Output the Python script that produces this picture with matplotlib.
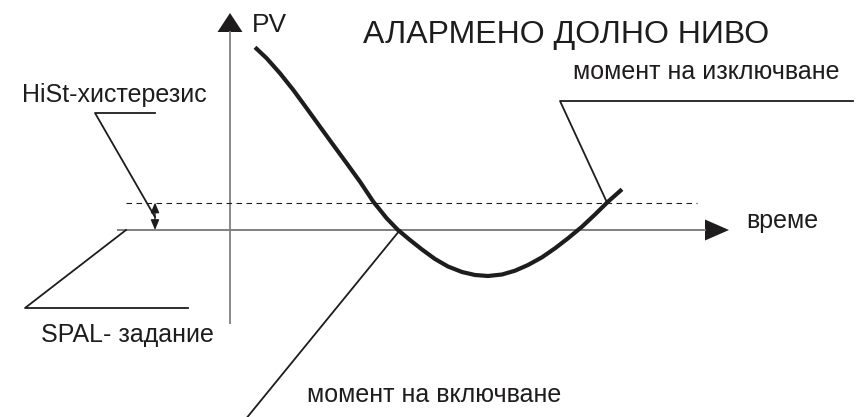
import matplotlib
matplotlib.use("Agg")
import matplotlib.pyplot as plt
from matplotlib.patches import Polygon

plt.rcParams['font.family'] = ['Liberation Sans', 'DejaVu Sans']

# ---- data (time / PV, origin where the axes cross) ----
time = [25, 36.7, 50, 63.3, 76.7, 90, 103.3, 116.7, 130, 143.3, 156.7,
        168, 180, 192, 205, 218, 232, 245, 258, 272, 285, 298, 312, 325,
        338, 352, 365, 378, 392]
pv = [182.7, 171.7, 156.7, 140, 121.7, 103.3, 85, 66.7, 48.3, 28.3, 11.7,
      0, -10, -19.5, -29, -36.5, -42, -45, -46, -44.5, -40.7, -35, -27.3,
      -18.3, -8.3, 3.3, 15.5, 28.3, 40.7]

SPAL = 0          # alarm set point
HIST = 27.5       # hysteresis band above set point
t_on = 170        # moment of switching on (curve crosses SPAL)
t_off = 377       # moment of switching off (curve crosses SPAL+HiSt)

title = "АЛАРМЕНО ДОЛНО НИВО"
ylabel = "PV"
xlabel = "време"
lbl_hist = "HiSt-хистерезис"
lbl_spal = "SPAL- задание"
lbl_on = "момент на включване"
lbl_off = "момент на изключване"

# ---- figure ----
fig = plt.figure(figsize=(8.63, 4.17), dpi=100)
ax = fig.add_axes([0, 0, 1, 1])
ax.set_xlim(-230, 633)
ax.set_ylim(-187, 230)
ax.axis('off')

axis_col = '#808080'
ink = '#1e1c1c'

# axes
ax.plot([0, 0], [-94, 199], color=axis_col, lw=1.3, solid_capstyle='butt')
ax.add_patch(Polygon([[0, 217], [-12.5, 198], [12.5, 198]], closed=True,
                     color=ink, lw=0))
ax.plot([-113, 476], [SPAL, SPAL], color=axis_col, lw=1.4, solid_capstyle='butt')
ax.add_patch(Polygon([[499, SPAL], [475, SPAL + 10.5], [475, SPAL - 10.5]],
                     closed=True, color=ink, lw=0))

# hysteresis level
ax.plot([-104, 467], [SPAL + HIST, SPAL + HIST], color=ink, lw=0.8,
        linestyle=(0, (5, 4)))

# hysteresis double arrow
ax.annotate('', xy=(-75, SPAL), xytext=(-75, SPAL + HIST),
            arrowprops=dict(arrowstyle='<|-|>,head_length=0.6,head_width=0.25',
                            color=ink, lw=1.0, shrinkA=0, shrinkB=0,
                            mutation_scale=10))

# PV curve
ax.plot(time, pv, color=ink, lw=3.0, solid_capstyle='butt',
        solid_joinstyle='round')

# leader lines
lw_l = 1.3
ax.plot([-75, -135, -75], [117, 117, SPAL + 13], color=ink, lw=lw_l)
ax.plot([-104, -205, -42], [SPAL, -78, -78], color=ink, lw=lw_l)
ax.plot([t_on, 15], [SPAL, -190], color=ink, lw=lw_l)
ax.plot([623, 330, t_off], [129, 129, SPAL + HIST], color=ink, lw=lw_l)

# texts
ax.text(336, 187, title, fontsize=23, color=ink, ha='center', va='baseline')
ax.text(39, 198, ylabel, fontsize=19, color=ink, ha='center', va='baseline')
ax.text(552.5, 2, xlabel, fontsize=18, color=ink, ha='center', va='baseline')
ax.text(-116, 128, lbl_hist, fontsize=18, color=ink, ha='center', va='baseline')
ax.text(-102.5, -111.7, lbl_spal, fontsize=18, color=ink, ha='center', va='baseline')
ax.text(204.5, -172, lbl_on, fontsize=18, color=ink, ha='center', va='baseline')
ax.text(476.5, 151, lbl_off, fontsize=18, color=ink, ha='center', va='baseline')

fig.savefig('out.png', dpi=100, facecolor='white')
